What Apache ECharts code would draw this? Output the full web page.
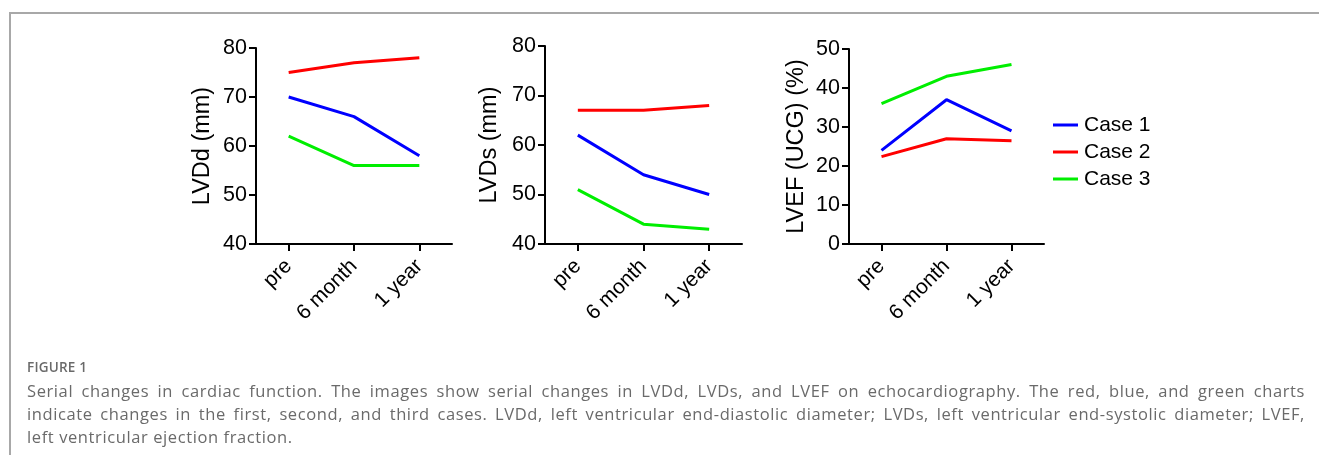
<!DOCTYPE html>
<html>
<head>
<meta charset="utf-8">
<script src="https://cdn.jsdelivr.net/npm/echarts@6/dist/echarts.min.js"></script>
<style>
  html, body { margin: 0; padding: 0; background: #fff; }
  #wrap { position: relative; width: 1319px; height: 455px; overflow: hidden; }
  #frame { position: absolute; left: 9px; top: 12px; width: 1320px; height: 460px;
           border-left: 2px solid #a8a8a8; border-top: 2px solid #a8a8a8; box-sizing: border-box; }
  #chart { position: absolute; left: 0; top: 0; width: 1319px; height: 455px; }
  #caption { position: absolute; left: 27px; top: 357px; width: 1278px;
             font-family: "Open Sans", "Noto Sans", sans-serif; color: #6a6a6a; }
  #caption .fig { font-size: 13.5px; font-weight: 600; line-height: 20px; height: 22px; letter-spacing: 0.2px; }
  #caption .ln { font-size: 16.5px; line-height: 23px; letter-spacing: 0.6px; text-align: justify; text-align-last: justify; }
  #caption .ln.last { text-align-last: left; }
</style>
</head>
<body>
<div id="wrap">
  <div id="frame"></div>
  <div id="chart"></div>
  <div id="caption">
    <div class="fig">FIGURE 1</div>
    <div class="ln">Serial changes in cardiac function. The images show serial changes in LVDd, LVDs, and LVEF on echocardiography. The red, blue, and green charts</div>
    <div class="ln">indicate changes in the first, second, and third cases. LVDd, left ventricular end-diastolic diameter; LVDs, left ventricular end-systolic diameter; LVEF,</div>
    <div class="ln last">left ventricular ejection fraction.</div>
  </div>
</div>
<script>
// ---- data ----
const categories = ['pre', '6 month', '1 year'];
const seriesNames = ['Case 1', 'Case 2', 'Case 3'];
const lvddCase1 = [70, 66, 58];
const lvddCase2 = [75, 77, 78];
const lvddCase3 = [62, 56, 56];
const lvdsCase1 = [62, 54, 50];
const lvdsCase2 = [67, 67, 68];
const lvdsCase3 = [51, 44, 43];
const lvefCase1 = [24, 37, 29];
const lvefCase2 = [22.4, 27, 26.5];
const lvefCase3 = [36, 43, 46];
const panelTitles = ['LVDd (mm)', 'LVDs (mm)', 'LVEF (UCG) (%)'];

const colors = ['#0000ff', '#ff0000', '#00ee00'];
const FONT = '"Liberation Sans", Arial, sans-serif';

const grids = [
  { left: 256, top: 48, width: 196, height: 196 },
  { left: 545, top: 46, width: 197, height: 198 },
  { left: 849, top: 49, width: 195, height: 195 }
];
const yRanges = [[40, 80], [40, 80], [0, 50]];
const nameGaps = [41, 43, 40];
const panelData = [
  [lvddCase1, lvddCase2, lvddCase3],
  [lvdsCase1, lvdsCase2, lvdsCase3],
  [lvefCase1, lvefCase2, lvefCase3]
];

const axisLine = { show: true, lineStyle: { color: '#000', width: 2 } };
const axisTick = { show: true, length: 7, lineStyle: { color: '#000', width: 2 } };

const xAxis = grids.map((g, i) => ({
  type: 'category', gridIndex: i, data: categories, boundaryGap: true,
  axisLine, axisTick: Object.assign({ alignWithLabel: true }, axisTick),
  axisLabel: { rotate: 45, margin: 19, color: '#000', fontSize: 21, fontFamily: FONT, interval: 0 }
}));
const yAxis = grids.map((g, i) => ({
  type: 'value', gridIndex: i, min: yRanges[i][0], max: yRanges[i][1], interval: 10,
  name: panelTitles[i], nameLocation: 'middle', nameGap: nameGaps[i], nameRotate: 90,
  nameTextStyle: { color: '#000', fontSize: 23.5, fontFamily: FONT },
  axisLine, axisTick,
  splitLine: { show: false },
  axisLabel: { margin: 9, color: '#000', fontSize: 21.5, fontFamily: FONT }
}));

const series = [];
panelData.forEach((cases, p) => {
  cases.forEach((vals, c) => {
    series.push({
      type: 'line', name: seriesNames[c], xAxisIndex: p, yAxisIndex: p,
      data: vals, showSymbol: false, symbol: 'none',
      lineStyle: { color: colors[c], width: 3 }, itemStyle: { color: colors[c] },
      animation: false, z: 3 - c
    });
  });
});

const chart = echarts.init(document.getElementById('chart'));
chart.setOption({
  animation: false,
  grid: grids.map(g => Object.assign({ containLabel: false }, g)),
  xAxis, yAxis, series,
  legend: {
    data: seriesNames, orient: 'vertical', left: 1048, top: 108,
    icon: 'rect', itemWidth: 25, itemHeight: 3, itemGap: 3,
    textStyle: { color: '#000', fontSize: 21, fontFamily: FONT, lineHeight: 24, padding: [0, 0, 0, 1] },
    selectedMode: false
  }
});
</script>
</body>
</html>
